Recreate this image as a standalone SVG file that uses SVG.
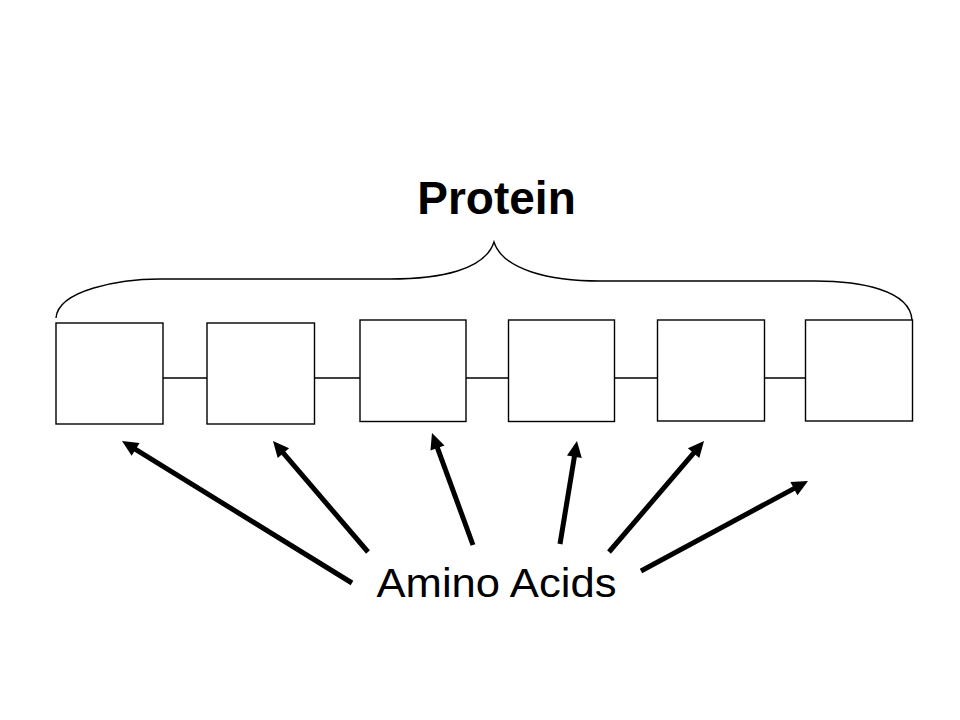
<svg xmlns="http://www.w3.org/2000/svg" width="960" height="720" viewBox="0 0 960 720">
  <defs>
    <style>
      .box { fill: #ffffff; stroke: #000000; stroke-width: 1.4; }
      .link { stroke: #000000; stroke-width: 1.4; fill: none; }
      .brace { stroke: #000000; stroke-width: 1.4; fill: none; }
      .arrow { stroke: #000000; stroke-width: 5; fill: none; marker-end: url(#head); }
      .title { font-family: "Liberation Sans", Arial, sans-serif; font-weight: bold; font-size: 46px; fill: #000000; }
      .label { font-family: "Comic Sans MS", "Liberation Sans", "DejaVu Sans", sans-serif; font-size: 41px; fill: #000000; }
    </style>
    <marker id="head" markerUnits="userSpaceOnUse" viewBox="-4 -10 24 20" markerWidth="24" markerHeight="20" refX="0" refY="0" orient="auto">
      <path d="M-2,-7.5 L14,0 L-2,7.5 Z" fill="#000000"/>
    </marker>
  </defs>
  <rect width="960" height="720" fill="#ffffff"/>

  <g id="title">
    <text class="title" x="496.5" y="214" text-anchor="middle">Protein</text>
  </g>

  <g id="brace">
    <path class="brace" d="M56,318 C58,290 120,279 160,279 L390,279 C440,279 485,270 494,242 C503,270 550,281 600,281 L815,281 C860,281 910,290 912,320"/>
  </g>

  <g id="connectors">
    <line class="link" x1="163" y1="378" x2="207" y2="378"/>
    <line class="link" x1="314" y1="378" x2="360" y2="378"/>
    <line class="link" x1="466" y1="378" x2="508" y2="378"/>
    <line class="link" x1="615" y1="378" x2="657" y2="378"/>
    <line class="link" x1="765" y1="378" x2="805" y2="378"/>
    <line class="arrow" x1="352" y1="583" x2="133.9" y2="448.4"/>
    <line class="arrow" x1="368" y1="552" x2="282.1" y2="451.6"/>
    <line class="arrow" x1="473" y1="545" x2="436.8" y2="446.1"/>
    <line class="arrow" x1="560" y1="544" x2="574.7" y2="454.8"/>
    <line class="arrow" x1="609" y1="552" x2="694.9" y2="451.6"/>
    <line class="arrow" x1="641" y1="571" x2="795.7" y2="487.6"/>
  </g>

  <g id="aa1"><rect class="box" x="56" y="323" width="107" height="101"/></g>
  <g id="aa2"><rect class="box" x="207" y="323" width="107.5" height="101"/></g>
  <g id="aa3"><rect class="box" x="360" y="320" width="106" height="101.5"/></g>
  <g id="aa4"><rect class="box" x="508.5" y="320" width="106" height="101.5"/></g>
  <g id="aa5"><rect class="box" x="657.5" y="320" width="107" height="101"/></g>
  <g id="aa6"><rect class="box" x="805.5" y="320" width="107" height="101"/></g>

  <g id="amino-acids">
    <text class="label" x="376.5" y="597" textLength="240" lengthAdjust="spacingAndGlyphs">Amino Acids</text>
  </g>
</svg>
